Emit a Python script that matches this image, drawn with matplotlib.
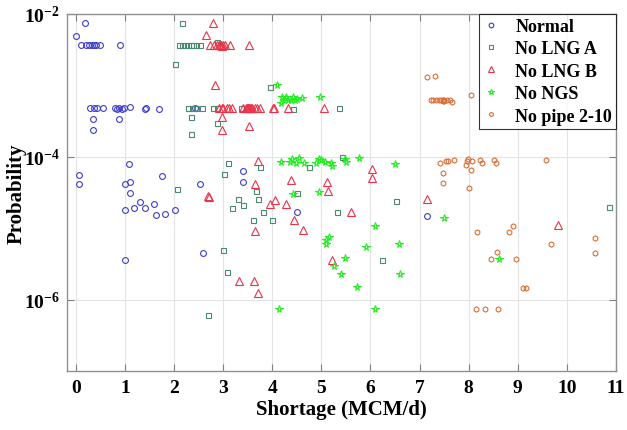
import numpy as np
import matplotlib
matplotlib.use('Agg')
import matplotlib.pyplot as plt
from matplotlib.ticker import FixedLocator, FuncFormatter

plt.rcParams['font.family'] = ['Liberation Serif', 'DejaVu Serif']
plt.rcParams['font.weight'] = 'bold'
plt.rcParams['mathtext.fontset'] = 'custom'
plt.rcParams['mathtext.rm'] = 'Liberation Serif:bold'
plt.rcParams['mathtext.bf'] = 'Liberation Serif:bold'

# Normal
normal_x = [0.18, 0.01, 0.11, 0.2, 0.27, 0.32, 0.36, 0.41, 0.5, 0.9,
            0.29, 0.38, 0.43, 0.56, 0.79, 0.84, 0.88, 0.93, 0.98, 1.11, 1.41, 1.43, 1.69, 2.43,
            0.34, 0.88, 0.34, 1.09, 0.06, 0.06, 1.01, 1.10, 1.10, 1.76, 1.30, 1.18, 1.01,
            1.41, 1.60, 1.64, 1.81, 2.02, 2.53, 1.0, 2.59, 3.41, 3.41, 4.51, 7.15]
normal_y = [7.4e-3, 4.9e-3, 3.7e-3, 3.7e-3, 3.7e-3, 3.7e-3, 3.7e-3, 3.7e-3, 3.7e-3, 3.7e-3,
            4.8e-4, 4.9e-4, 4.8e-4, 4.8e-4, 4.9e-4, 4.7e-4, 4.8e-4, 4.7e-4, 4.8e-4, 5.0e-4, 4.6e-4, 4.9e-4, 4.6e-4, 4.8e-4,
            3.4e-4, 3.4e-4, 2.4e-4, 7.9e-5, 5.5e-5, 4.1e-5, 4.1e-5, 4.4e-5, 3.1e-5, 5.3e-5, 2.3e-5, 1.9e-5, 1.8e-5,
            1.9e-5, 2.2e-5, 1.55e-5, 1.6e-5, 1.8e-5, 4.1e-5, 3.6e-6, 4.5e-6, 6.3e-5, 4.4e-5, 1.7e-5, 1.5e-5]

# No LNG A
lnga_x = [2.17, 2.10, 2.17, 2.23, 2.28, 2.34, 2.39, 2.45, 2.53, 2.88, 2.02, 3.95,
          2.29, 2.36, 2.44, 2.56, 2.80, 2.87, 3.37, 4.43, 5.36, 2.34, 2.88, 2.34,
          3.10, 3.01, 2.07, 3.31, 3.41, 3.17, 3.67, 3.71, 3.61, 2.99, 3.07, 3.75,
          3.82, 4.0, 4.75, 4.51, 5.31, 5.42, 6.51, 6.24, 10.85, 2.69]
lnga_y = [7.4e-3, 3.7e-3, 3.7e-3, 3.7e-3, 3.7e-3, 3.7e-3, 3.7e-3, 3.7e-3, 3.7e-3, 4.1e-3, 2.0e-3, 9.6e-4,
          4.8e-4, 4.8e-4, 4.8e-4, 4.8e-4, 4.8e-4, 4.8e-4, 4.8e-4, 4.6e-4, 4.8e-4, 3.6e-4, 3.0e-4, 2.1e-4,
          8.3e-5, 5.8e-5, 3.5e-5, 2.6e-5, 2.1e-5, 1.9e-5, 3.3e-5, 2.6e-5, 1.3e-5, 4.9e-6, 2.4e-6, 7.1e-5,
          1.7e-5, 1.3e-5, 7.1e-5, 3.1e-5, 1.7e-5, 1.0e-4, 2.4e-5, 3.6e-6, 2.0e-5, 6.1e-7]

# No LNG B
lngb_x = [2.80, 2.65, 2.74, 2.81, 2.87, 2.92, 2.96, 2.99, 3.03, 3.14, 3.52, 2.94, 2.97, 2.83,
          2.92, 2.97, 3.0, 3.07, 3.12, 3.19, 3.41, 3.46, 3.48, 3.51, 3.54, 3.58, 3.65, 3.68,
          3.75, 4.02, 4.03, 4.32, 5.05, 3.50, 3.53, 3.56,
          2.97, 2.98, 3.52, 3.70, 3.65, 2.70, 2.72, 3.65, 4.38, 5.11, 5.13, 4.05, 3.95,
          4.28, 5.60, 4.44, 4.63, 6.04, 6.04, 5.22, 3.32, 3.63, 3.70, 7.16, 9.81]
lngb_y = [7.4e-3, 5.0e-3, 3.7e-3, 3.7e-3, 3.7e-3, 3.7e-3, 3.7e-3, 3.7e-3, 3.7e-3, 3.7e-3, 3.7e-3, 3.7e-3, 3.6e-3, 1.0e-3,
          4.8e-4, 4.8e-4, 4.8e-4, 4.8e-4, 4.8e-4, 4.8e-4, 4.8e-4, 4.8e-4, 4.8e-4, 4.8e-4, 4.8e-4, 4.8e-4, 4.8e-4, 4.8e-4,
          4.8e-4, 4.8e-4, 4.8e-4, 4.8e-4, 4.8e-4, 4.9e-4, 4.8e-4, 4.9e-4,
          3.6e-4, 2.4e-4, 2.7e-4, 8.6e-5, 4.1e-5, 2.8e-5, 2.7e-5, 9.2e-6, 4.8e-5, 4.4e-5, 3.3e-5, 2.5e-5, 2.2e-5,
          2.2e-5, 1.7e-5, 1.3e-5, 9.3e-6, 6.7e-5, 5.1e-5, 3.6e-6, 1.85e-6, 1.85e-6, 1.24e-6, 2.6e-5, 1.1e-5]

# No NGS
ngs_x = [4.10, 4.97, 4.19, 4.24, 4.28, 4.32, 4.38, 4.43, 4.46, 4.51, 4.60, 4.18,
         4.17, 4.37, 4.41, 4.49, 4.54, 4.64, 4.89, 4.96, 5.0, 5.08, 5.19, 5.21, 5.48, 5.50, 5.77, 6.50,
         4.43, 4.96, 6.09, 5.15, 5.09, 5.09, 5.90, 6.58, 5.49, 5.25, 5.40, 6.60, 5.72,
         4.13, 6.09, 7.49, 8.61]
ngs_y = [1.0e-3, 6.9e-4, 6.8e-4, 6.3e-4, 6.8e-4, 6.3e-4, 6.3e-4, 6.8e-4, 6.3e-4, 6.5e-4, 6.6e-4, 5.6e-4,
         8.5e-5, 8.4e-5, 9.3e-5, 8.2e-5, 9.5e-5, 8.1e-5, 8.2e-5, 9.3e-5, 8.9e-5, 8.5e-5, 8.1e-5, 7.5e-5, 9.2e-5, 8.5e-5, 9.5e-5, 8.0e-5,
         3.0e-5, 3.2e-5, 1.07e-5, 7.6e-6, 6.9e-6, 6.1e-6, 5.4e-6, 6.1e-6, 3.8e-6, 3.0e-6, 2.3e-6, 2.3e-6, 1.5e-6,
         7.5e-7, 7.5e-7, 1.4e-5, 3.7e-6]

# No pipe 2-10
pipe_x = [7.16, 7.32, 8.04, 7.24, 7.28, 7.34, 7.39, 7.44, 7.47, 7.48, 7.50, 7.49, 7.56, 7.61, 7.66,
          7.41, 7.53, 7.58, 7.70, 7.94, 7.97, 7.99, 8.06, 8.24, 8.28, 8.51, 8.55, 9.57,
          7.48, 8.04, 7.48, 8.01, 8.16, 8.83, 8.91, 8.57, 8.45, 8.97, 9.10, 9.17,
          9.67, 10.58, 10.58, 8.14, 8.33, 8.59]
pipe_y = [1.3e-3, 1.37e-3, 7.4e-4, 6.2e-4, 6.2e-4, 6.2e-4, 6.2e-4, 6.2e-4, 6.2e-4, 6.0e-4, 6.2e-4, 6.1e-4, 6.2e-4, 6.2e-4, 5.9e-4,
          8.2e-5, 8.6e-5, 8.6e-5, 8.9e-5, 7.7e-5, 8.6e-5, 9.3e-5, 8.6e-5, 9.1e-5, 8.3e-5, 9.1e-5, 8.3e-5, 9.0e-5,
          5.9e-5, 6.6e-5, 4.3e-5, 3.6e-5, 8.9e-6, 8.9e-6, 1.07e-5, 4.6e-6, 3.7e-6, 3.7e-6, 1.45e-6, 1.45e-6,
          6.0e-6, 7.4e-6, 4.5e-6, 7.4e-7, 7.4e-7, 7.4e-7]

fig = plt.figure(figsize=(6.27, 4.31), dpi=100)
ax = fig.add_axes([67 / 627, 59 / 431, 549 / 627, 357 / 431])

ax.plot(normal_x, normal_y, 'o', ms=4.2, mfc='none', mec='#3c3ccc', mew=0.8, label='Normal')
ax.plot(lnga_x, lnga_y, 's', ms=3.6, mfc='none', mec='#4a8a6e', mew=0.8, label='No LNG A')
ax.plot(lngb_x, lngb_y, '^', ms=5.2, mfc='none', mec='#e8344a', mew=0.8, label='No LNG B')
ax.plot(ngs_x, ngs_y, '*', ms=5.5, mfc='none', mec='#22ee22', mew=0.8, label='No NGS')
ax.plot(pipe_x, pipe_y, 'h', ms=3.8, mfc='none', mec='#d8703a', mew=0.8, label='No pipe 2-10')

ax.set_yscale('log')
ax.set_xlim(-0.18, 11)
ax.set_ylim(1e-7, 1e-2)
ax.set_xticks(range(0, 12))
ax.yaxis.set_major_locator(FixedLocator([1e-6, 1e-4, 1e-2]))
ax.yaxis.set_minor_locator(FixedLocator([]))
ax.yaxis.set_major_formatter(FuncFormatter(lambda v, p: r'$\mathbf{10^{%d}}$' % round(np.log10(v))))
ax.grid(True, color='#e4e4e4', lw=0.8)
ax.set_axisbelow(True)
ax.tick_params(direction='in', top=True, right=True, length=5, width=0.8, color='#808080',
               labelsize=14)
ax.tick_params(axis='x', pad=6)
ax.tick_params(axis='y', pad=5)
for s in ax.spines.values():
    s.set_color('#909090')
    s.set_linewidth(1.0)

ax.set_xlabel('Shortage (MCM/d)', fontsize=15, fontweight='bold', labelpad=2)
ax.set_ylabel('Probability', fontsize=15, fontweight='bold', labelpad=-2)

leg = ax.legend(loc='upper right', fontsize=13, frameon=True, fancybox=False, edgecolor='black',
                borderaxespad=0, handlelength=0.9, handletextpad=0.9, labelspacing=0.3,
                borderpad=0.22, markerscale=0.8)
leg.get_frame().set_linewidth(0.8)
for t in leg.get_texts():
    t.set_fontweight('bold')

fig.savefig('out.png', dpi=100)
